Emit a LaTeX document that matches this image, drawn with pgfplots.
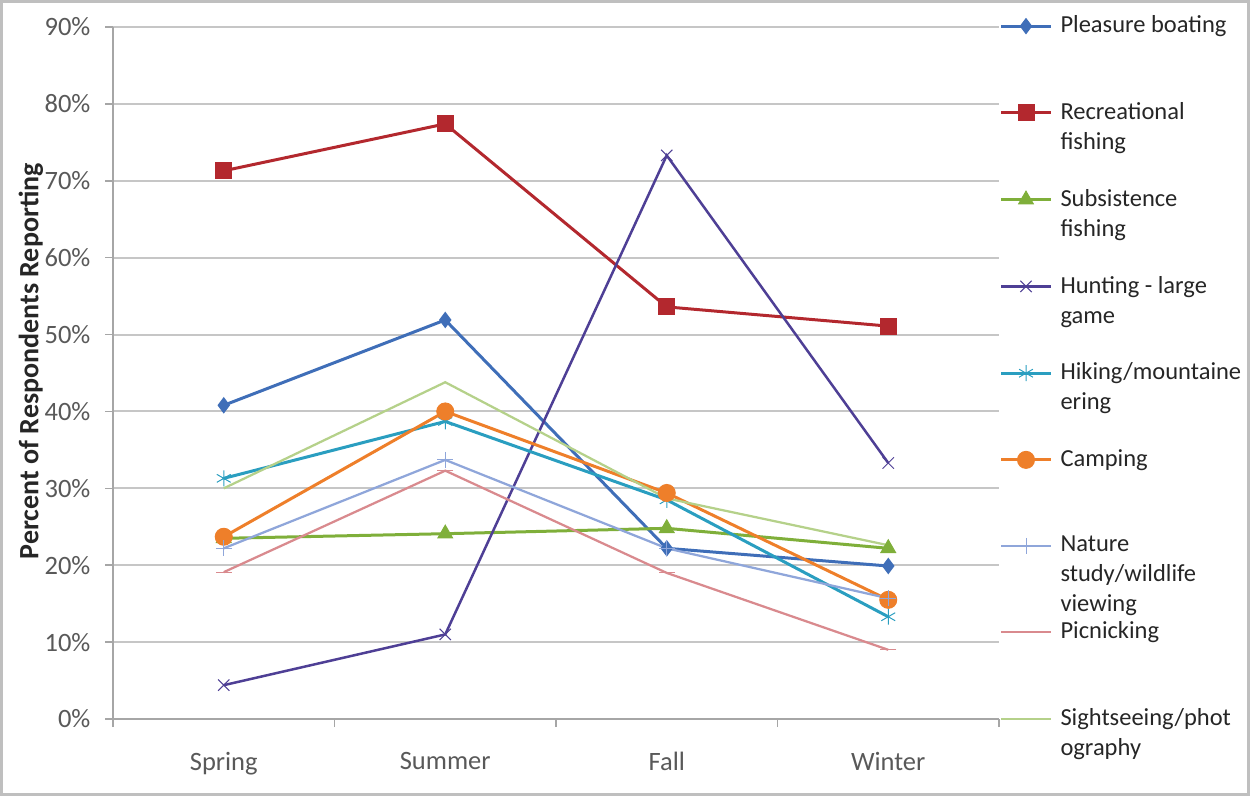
\documentclass[border=0pt]{standalone}
\usepackage{fontspec}
\setmainfont{Carlito}
\usepackage{pgfplots}
\pgfplotsset{compat=1.18}
\definecolor{cBoat}{HTML}{3F6EB8}
\definecolor{cRec}{HTML}{B3282E}
\definecolor{cSub}{HTML}{7FAF3A}
\definecolor{cHunt}{HTML}{4E3F95}
\definecolor{cHike}{HTML}{2A9EC0}
\definecolor{cCamp}{HTML}{EE7F2A}
\definecolor{cNat}{HTML}{8FA6DA}
\definecolor{cPic}{HTML}{D98A8E}
\definecolor{cSight}{HTML}{B5D18A}
\definecolor{tickgray}{HTML}{595959}
\newcommand{\LE}[1]{\parbox[t]{80pt}{\raggedright #1}}
\begin{document}
\begin{tikzpicture}[font=\fontsize{9.8}{12}\selectfont]
\useasboundingbox (-45.2pt,-30.8pt) rectangle (454.8pt,287.6pt);
\draw[gray!50, line width=1.2pt] (-44.6pt,-30.2pt) rectangle (454.2pt,287pt);
\begin{axis}[
 at={(0,0)}, anchor=south west,
 scale only axis, width=354.4pt, height=276.8pt,
 xmin=-0.5, xmax=3.5, ymin=0, ymax=90,
 xtick={-0.5,0.5,1.5,2.5,3.5}, xticklabels={},
 extra x ticks={0,1,2,3}, extra x tick labels={Spring,Summer,Fall,Winter},
 extra x tick style={major tick length=0pt, tick label style={yshift=-9.6pt}},
 ytick={0,10,...,90}, yticklabels={0\%,10\%,20\%,30\%,40\%,50\%,60\%,70\%,80\%,90\%},
 yticklabel style={xshift=-2.3pt},
 tick label style={text=tickgray, font=\fontsize{10.6}{12}\selectfont},
 tick align=outside, major tick length=3.2pt,
 tick style={gray!70, line width=0.6pt},
 axis x line*=bottom, axis y line*=left,
 axis line style={gray!70, line width=0.8pt},
 ymajorgrids, grid style={gray!45, line width=0.8pt},
 ylabel={\bfseries Percent of Respondents Reporting},
 ylabel style={at={(axis description cs:-0.0926,0.517)}, anchor=center, text=black!85, font=\fontsize{11.2}{13}\selectfont},
 legend style={at={(axis description cs:1.0,1.017)}, anchor=north west, draw=none, fill=none,
   row sep=26.4pt, inner sep=0pt, nodes={inner sep=0pt, text=black!85}, /tikz/column sep=3.2pt},
 legend cell align=left,
 legend image code/.code={\draw[mark repeat=2,mark phase=2,#1] plot coordinates {(0pt,0pt) (10pt,0pt) (20pt,0pt)};},
 every axis plot/.append style={mark options={solid, line width=0.4pt}},
]
\addplot[cBoat, line width=1.2pt, mark=diamond*, mark size=3pt] coordinates {(0,40.8)(1,51.9)(2,22.2)(3,19.9)};
\addlegendentry{\LE{Pleasure boating}}
\addplot[cRec, line width=1.2pt, mark=square*, mark size=3.2pt] coordinates {(0,71.3)(1,77.4)(2,53.6)(3,51.1)};
\addlegendentry{\LE{Recreational\\fishing}}
\addplot[cSub, line width=1.2pt, mark=triangle*, mark size=3.4pt] coordinates {(0,23.5)(1,24.1)(2,24.8)(3,22.2)};
\addlegendentry{\LE{Subsistence\\fishing}}
\addplot[cHunt, line width=1pt, mark=x, mark size=3.2pt] coordinates {(0,4.4)(1,11.0)(2,73.3)(3,33.3)};
\addlegendentry{\LE{Hunting - large\\game}}
\addplot[cHike, line width=1.2pt, mark=asterisk, mark size=3.2pt] coordinates {(0,31.3)(1,38.7)(2,28.5)(3,13.3)};
\addlegendentry{\LE{Hiking/mountaine\\ering}}
\addplot[cCamp, line width=1.2pt, mark=*, mark size=3.4pt] coordinates {(0,23.7)(1,40.0)(2,29.4)(3,15.5)};
\addlegendentry{\LE{Camping}}
\addplot[cNat, line width=0.9pt, mark=+, mark size=3.2pt] coordinates {(0,22.2)(1,33.7)(2,22.2)(3,15.7)};
\addlegendentry{\LE{Nature\\study/wildlife\\viewing}}
\addplot[cPic, line width=0.9pt, mark=-, mark size=3.2pt] coordinates {(0,19.1)(1,32.3)(2,19.0)(3,9.0)};
\addlegendentry{\LE{Picnicking}}
\addplot[cSight, line width=0.9pt, mark=none] coordinates {(0,30.0)(1,43.8)(2,28.7)(3,22.6)};
\addlegendentry{\LE{Sightseeing/phot\\ography}}
\end{axis}
\end{tikzpicture}
\end{document}
